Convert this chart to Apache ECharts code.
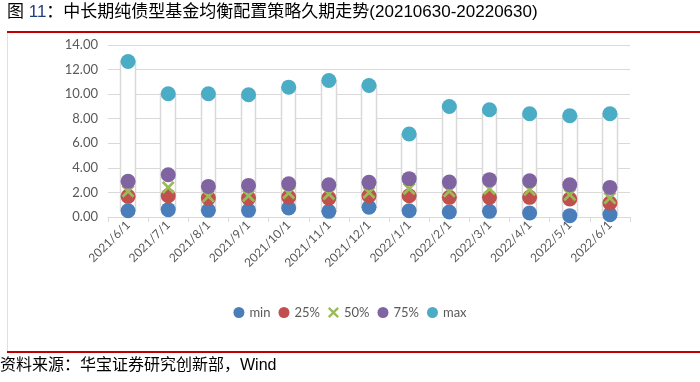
<!DOCTYPE html>
<html>
<head>
<meta charset="utf-8">
<script src="https://cdn.jsdelivr.net/npm/echarts@6/dist/echarts.min.js"></script>
<style>
html,body{margin:0;padding:0;background:#fff;}
#chart{width:700px;height:382px;}
</style>
</head>
<body>
<div id="chart"></div>
<script>
const categories = ['2021/6/1','2021/7/1','2021/8/1','2021/9/1','2021/10/1','2021/11/1','2021/12/1','2022/1/1','2022/2/1','2022/3/1','2022/4/1','2022/5/1','2022/6/1'];
const minVals = [0.51, 0.60, 0.54, 0.54, 0.73, 0.46, 0.79, 0.51, 0.41, 0.46, 0.33, 0.11, 0.19];
const p25Vals = [1.68, 1.73, 1.54, 1.54, 1.63, 1.54, 1.73, 1.73, 1.60, 1.60, 1.60, 1.46, 1.14];
const p50Vals = [2.09, 2.41, 1.68, 1.73, 1.95, 1.87, 2.00, 2.30, 2.09, 2.30, 2.22, 1.82, 1.54];
const p75Vals = [2.90, 3.44, 2.49, 2.57, 2.71, 2.63, 2.82, 3.12, 2.85, 3.04, 2.95, 2.63, 2.41];
const maxVals = [12.66, 10.03, 10.03, 9.95, 10.57, 11.11, 10.70, 6.75, 9.00, 8.73, 8.40, 8.24, 8.40];
const yTicks = [0, 2, 4, 6, 8, 10, 12, 14];
const seriesNames = ['min', '25%', '50%', '75%', 'max'];

const titlePrefix = '图 ';
const titleNumber = '11';
const titleBody = '：中长期纯债型基金均衡配置策略久期走势(20210630-20220630)';
const sourceText = '资料来源：华宝证券研究创新部，Wind';

const xPath = 'path://M0,1.5 L1.5,0 L5,3.5 L8.5,0 L10,1.5 L6.5,5 L10,8.5 L8.5,10 L5,6.5 L1.5,10 L0,8.5 L3.5,5 Z';
const colors = ['#4A7EBB', '#C0504D', '#9BBB59', '#8064A2', '#4BACC6'];
const valueSets = [minVals, p25Vals, p50Vals, p75Vals, maxVals];

const chart = echarts.init(document.getElementById('chart'), null, {renderer: 'canvas'});
const labelFont = 'Lato, "Open Sans", sans-serif';
const headFont = '"Liberation Sans", "Noto Sans CJK SC", sans-serif';

const scatterSeries = seriesNames.map((name, i) => ({
  name: name,
  type: 'line',
  data: valueSets[i],
  lineStyle: {width: 0, opacity: 0},
  showSymbol: true,
  symbol: i === 2 ? xPath : 'circle',
  symbolSize: i === 2 ? 13 : 15,
  itemStyle: {color: colors[i]},
  z: 3 + i,
  emphasis: {disabled: true},
  animation: false
}));

const option = {
  backgroundColor: '#fff',
  animation: false,
  graphic: [
    {type: 'text', left: 7, top: 4, style: {
      text: '{a|' + titlePrefix + '}{n|' + titleNumber + '}{a|' + titleBody + '}',
      rich: {
        a: {fontSize: 17, fontFamily: headFont, fill: '#000', color: '#000'},
        n: {fontSize: 17, fontFamily: headFont, fill: '#1F3F7A', color: '#1F3F7A'}
      }
    }},
    {type: 'line', shape: {x1: 7, y1: 32, x2: 700, y2: 32}, style: {stroke: '#C00000', lineWidth: 2}},
    {type: 'line', shape: {x1: 7.5, y1: 33, x2: 7.5, y2: 351}, style: {stroke: '#e0e0e0', lineWidth: 1}},
    {type: 'line', shape: {x1: 7, y1: 352, x2: 700, y2: 352}, style: {stroke: '#C00000', lineWidth: 2}},
    {type: 'text', left: 0, top: 358, style: {text: sourceText, font: '16px ' + headFont, fill: '#000'}}
  ],
  legend: {
    data: seriesNames.map((n, i) => ({name: n, icon: i === 2 ? xPath : 'circle'})),
    left: 'center',
    top: 301,
    itemWidth: 11,
    itemHeight: 11,
    itemGap: 8,
    textStyle: {fontSize: 13, color: '#595959', fontFamily: labelFont}
  },
  grid: {left: 108, right: 70, top: 45, bottom: 165, containLabel: false},
  xAxis: {
    type: 'category',
    data: categories,
    boundaryGap: true,
    axisLine: {lineStyle: {color: '#D9D9D9', width: 1}},
    axisTick: {show: true, length: 5, lineStyle: {color: '#D9D9D9'}},
    axisLabel: {rotate: 45, fontSize: 12, color: '#595959', fontFamily: labelFont, margin: 6, interval: 0},
    splitLine: {show: false}
  },
  yAxis: {
    type: 'value',
    min: yTicks[0],
    max: yTicks[yTicks.length - 1],
    interval: yTicks[1] - yTicks[0],
    axisLine: {show: false},
    axisTick: {show: false},
    axisLabel: {fontSize: 13, color: '#595959', fontFamily: labelFont, margin: 10, formatter: v => v.toFixed(2)},
    splitLine: {lineStyle: {color: '#D9D9D9', width: 1}}
  },
  series: [
    {
      name: 'range',
      type: 'candlestick',
      data: categories.map((c, i) => [minVals[i], maxVals[i], minVals[i], maxVals[i]]),
      barWidth: 15,
      itemStyle: {color: '#FFFFFF', borderColor: '#D9D9D9', borderWidth: 1.5, color0: '#FFFFFF', borderColor0: '#D9D9D9'},
      z: 2,
      emphasis: {disabled: true}
    }
  ].concat(scatterSeries)
};
chart.setOption(option);
</script>
</body>
</html>
